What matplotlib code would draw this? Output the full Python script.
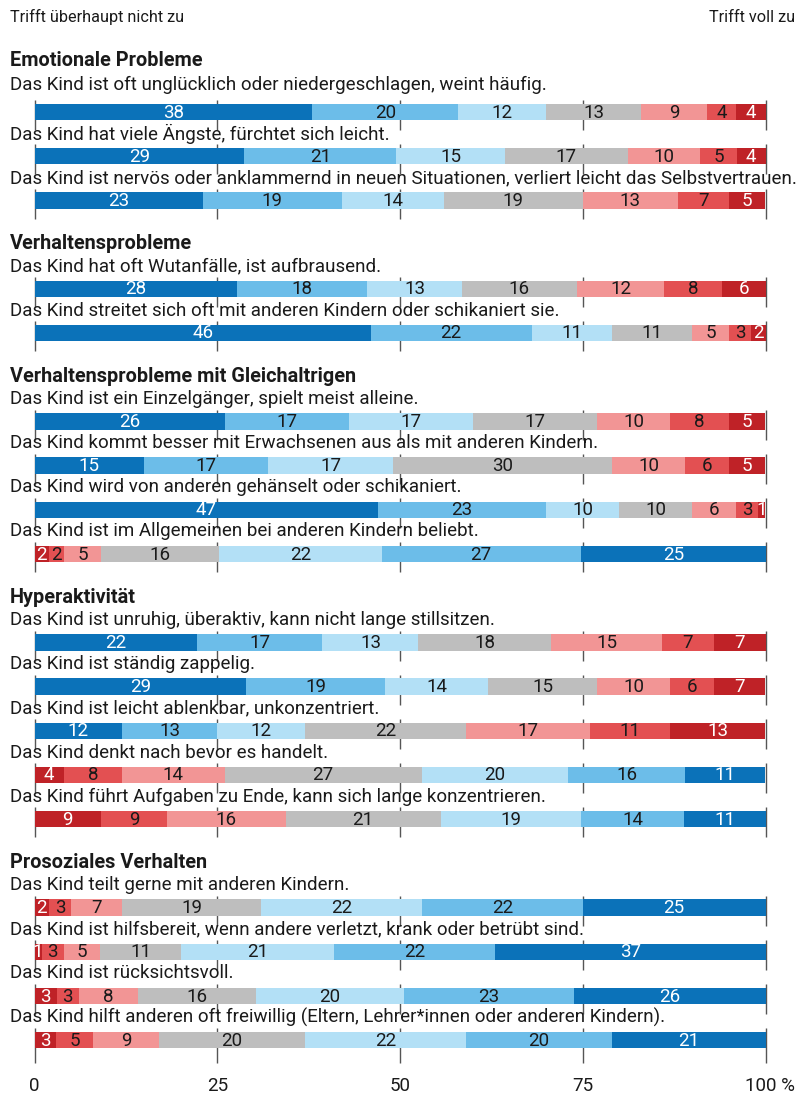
import matplotlib
matplotlib.use("Agg")
import matplotlib.pyplot as plt
import numpy as np

# ---------------- data ----------------
groups = ["Emotionale Probleme", "Verhaltensprobleme",
          "Verhaltensprobleme mit Gleichaltrigen", "Hyperaktivität",
          "Prosoziales Verhalten"]
group_sizes = [3, 2, 4, 5, 4]

items = [
    "Das Kind ist oft unglücklich oder niedergeschlagen, weint häufig.",
    "Das Kind hat viele Ängste, fürchtet sich leicht.",
    "Das Kind ist nervös oder anklammernd in neuen Situationen, verliert leicht das Selbstvertrauen.",
    "Das Kind hat oft Wutanfälle, ist aufbrausend.",
    "Das Kind streitet sich oft mit anderen Kindern oder schikaniert sie.",
    "Das Kind ist ein Einzelgänger, spielt meist alleine.",
    "Das Kind kommt besser mit Erwachsenen aus als mit anderen Kindern.",
    "Das Kind wird von anderen gehänselt oder schikaniert.",
    "Das Kind ist im Allgemeinen bei anderen Kindern beliebt.",
    "Das Kind ist unruhig, überaktiv, kann nicht lange stillsitzen.",
    "Das Kind ist ständig zappelig.",
    "Das Kind ist leicht ablenkbar, unkonzentriert.",
    "Das Kind denkt nach bevor es handelt.",
    "Das Kind führt Aufgaben zu Ende, kann sich lange konzentrieren.",
    "Das Kind teilt gerne mit anderen Kindern.",
    "Das Kind ist hilfsbereit, wenn andere verletzt, krank oder betrübt sind.",
    "Das Kind ist rücksichtsvoll.",
    "Das Kind hilft anderen oft freiwillig (Eltern, Lehrer*innen oder anderen Kindern).",
]

values = [
    [38, 20, 12, 13, 9, 4, 4],
    [29, 21, 15, 17, 10, 5, 4],
    [23, 19, 14, 19, 13, 7, 5],
    [28, 18, 13, 16, 12, 8, 6],
    [46, 22, 11, 11, 5, 3, 2],
    [26, 17, 17, 17, 10, 8, 5],
    [15, 17, 17, 30, 10, 6, 5],
    [47, 23, 10, 10, 6, 3, 1],
    [2, 2, 5, 16, 22, 27, 25],
    [22, 17, 13, 18, 15, 7, 7],
    [29, 19, 14, 15, 10, 6, 7],
    [12, 13, 12, 22, 17, 11, 13],
    [4, 8, 14, 27, 20, 16, 11],
    [9, 9, 16, 21, 19, 14, 11],
    [2, 3, 7, 19, 22, 22, 25],
    [1, 3, 5, 11, 21, 22, 37],
    [3, 3, 8, 16, 20, 23, 26],
    [3, 5, 9, 20, 22, 20, 21],
]

# positively worded items -> colour scale reversed
positive = [False, False, False, False, False, False, False, False, True,
            False, False, False, True, True, True, True, True, True]

tick_values = [0, 25, 50, 75, 100]
tick_labels = ["0", "25", "50", "75", "100 %"]
left_label = "Trifft überhaupt nicht zu"
right_label = "Trifft voll zu"

# good -> bad colours
colors = ["#0b72b9", "#6cbde9", "#b3e0f6", "#bebebe", "#f29595", "#e35052", "#bf2227"]
text_colors = ["white", "#1a1a1a", "#1a1a1a", "#1a1a1a", "#1a1a1a", "#1a1a1a", "white"]

FONT = "Roboto"

# ---------------- layout ----------------
W, H = 810, 1095
fig = plt.figure(figsize=(W / 100, H / 100), dpi=100)
ax = fig.add_axes([0, 0, 1, 1])
X0, X100 = 34.5, 765.5
scale = (X100 - X0) / 100.0
ax.set_xlim(-X0 / scale, (W - X0) / scale)
ax.set_ylim(H, 0)
ax.axis("off")


def px(xp):
    return (xp - X0) / scale


renderer = fig.canvas.get_renderer()


def fit_size(s, target, weight="normal", base=12):
    t = ax.text(0, 0, s, fontsize=base, family=FONT, weight=weight)
    w = t.get_window_extent(renderer).width
    t.remove()
    return base * target / w


fs_body = fit_size(items[2], 785)
fs_head = fit_size(groups[2], 345, weight="bold")
fs_top = 0.5 * (fit_size(left_label, 147) + fs_body)
fs_num = fs_body

BAR_H = 16.5
STEP = 44.2
slot = 0
bar_ys, label_ys, head_ys = [], [], []
for gi, n in enumerate(group_sizes):
    hy = 112 + (slot - 1) * STEP
    head_ys.append(60 if gi == 0 else hy - 1)
    slot += 1
    for j in range(n):
        by = 112 + (slot - 1) * STEP
        bar_ys.append(by)
        label_ys.append(by - (27 if slot == 1 else 22.5))
        slot += 1

# ---------------- draw ----------------
ax.text(px(10), 17, left_label, fontsize=fs_top, family=FONT, va="center", ha="left", color="#1a1a1a")
ax.text(px(795), 17, right_label, fontsize=fs_top, family=FONT, va="center", ha="right", color="#1a1a1a")

for g, hy in zip(groups, head_ys):
    ax.text(px(10), hy, g, fontsize=fs_head, family=FONT, weight="bold", va="center", ha="left", color="#1a1a1a")

n_items = len(items)
for i, (lab, vals) in enumerate(zip(items, values)):
    by = bar_ys[i]
    ax.text(px(10), label_ys[i], lab, fontsize=fs_body, family=FONT, va="center", ha="left",
            color="#1a1a1a", zorder=4)
    below = 15 if i == n_items - 1 else 10
    ax.vlines(tick_values, by - BAR_H / 2 - 3.5, by + BAR_H / 2 + below, color="#555555", lw=1.0, zorder=1)
    v = np.array(vals, dtype=float)
    widths = v / v.sum() * 100
    lefts = np.concatenate([[0], np.cumsum(widths)[:-1]])
    for k in range(7):
        ci = 6 - k if positive[i] else k
        ax.barh(by, widths[k], left=lefts[k], height=BAR_H, color=colors[ci], zorder=2, linewidth=0)
        ax.text(lefts[k] + widths[k] / 2, by + 0.5, str(vals[k]), fontsize=fs_num, family=FONT,
                ha="center", va="center", color=text_colors[ci], zorder=3)

for tv, tl in zip(tick_values, tick_labels):
    if tl.endswith("%"):
        ax.text(px(795), 1086, tl, fontsize=fs_body, family=FONT, ha="right", va="center", color="#1a1a1a")
    else:
        ax.text(tv, 1086, tl, fontsize=fs_body, family=FONT, ha="center", va="center", color="#1a1a1a")

fig.savefig("out.png", dpi=100)
